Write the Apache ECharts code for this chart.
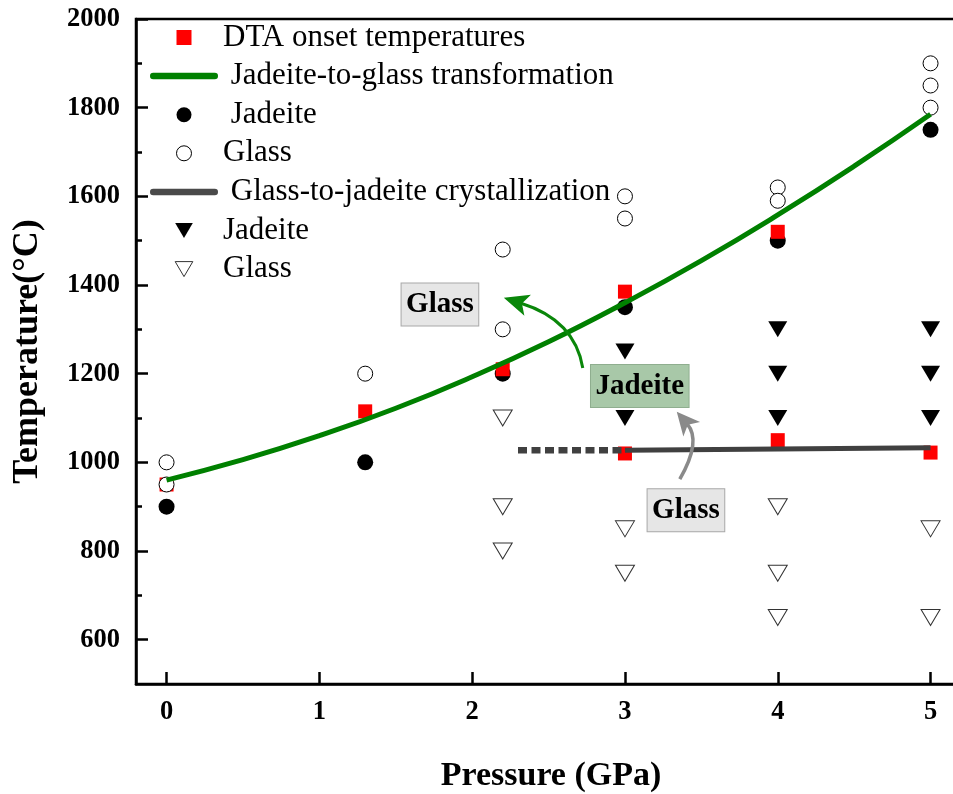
<!DOCTYPE html>
<html>
<head>
<meta charset="utf-8">
<script src="https://cdn.jsdelivr.net/npm/echarts@6/dist/echarts.min.js"></script>
<style>
html,body{margin:0;padding:0;background:#fff;}
#chart{width:953px;height:794px;}
</style>
</head>
<body>
<div id="chart"></div>
<script>
// ---------- data ----------
const pressureTicks = [0, 1, 2, 3, 4, 5];
const tempLabels = [600, 800, 1000, 1200, 1400, 1600, 1800, 2000];
const tempMinorTicks = [700, 900, 1100, 1300, 1500, 1700, 1900];

const dtaOnset = [[0, 950], [1.3, 1115], [2.2, 1210], [3, 1385], [3, 1020], [4, 1520], [4, 1050], [5, 1022]];
const jadeiteCircle = [[0, 900], [1.3, 1000], [2.2, 1200], [3, 1350], [4, 1500], [5, 1750]];
const glassCircle = [[0, 1000], [0, 950], [1.3, 1200], [2.2, 1480], [2.2, 1300], [3, 1600], [3, 1550], [4, 1620], [4, 1590], [5, 1900], [5, 1850], [5, 1800]];
const jadeiteTri = [[3, 1250], [3, 1100], [4, 1300], [4, 1200], [4, 1100], [5, 1300], [5, 1200], [5, 1100]];
const glassTri = [[2.2, 1100], [2.2, 900], [2.2, 800], [3, 850], [3, 750], [4, 900], [4, 750], [4, 650], [5, 850], [5, 650]];
const transformCurve = [[0, 960], [0.5, 1006], [1, 1060], [1.5, 1122], [2, 1193], [2.5, 1272], [3, 1360], [3.5, 1455], [4, 1558], [4.5, 1668], [5, 1785]];
const crystLine = [[3, 1027], [4, 1030], [5, 1033]];
const crystDashed = [[2.3, 1027], [3, 1027]];

const annotLabels = ['Glass', 'Jadeite', 'Glass'];
const annotPos = [[1.789, 1356], [3.097, 1172], [3.399, 892]];
const greenArrow = [[2.724, 1213], [2.672, 1321], [2.207, 1371]]; // start, control, tip
const grayArrow = [[3.359, 962], [3.503, 1048], [3.339, 1114]];

const names = {
  dta: 'DTA onset temperatures',
  trans: ' Jadeite-to-glass transformation',
  jc: ' Jadeite',
  gc: 'Glass',
  cryst: ' Glass-to-jadeite crystallization',
  jt: 'Jadeite',
  gt: 'Glass '
};

// ---------- chart ----------
const FONT = 'Liberation Serif';
const squarePath = 'path://M0,0 L10,0 L10,10 L0,10 Z';
const triPath = 'path://M0,0 L20,0 L10,17 Z';
const linePath = 'path://M3.5,0 L69.5,0 A3.5,3.5 0 0 1 69.5,7 L3.5,7 A3.5,3.5 0 0 1 3.5,0 Z';

const chart = echarts.init(document.getElementById('chart'), null, {renderer: 'canvas'});

const axisLineStyle = {color: '#000', width: 2.5};
const tickLabelStyle = {fontFamily: FONT, fontWeight: 'bold', fontSize: 26.5, color: '#000'};

const option = {
  backgroundColor: '#fff',
  animation: false,
  grid: {left: 136, top: 19, width: 830, height: 665, show: true, borderColor: '#000', borderWidth: 2.5,
    backgroundColor: 'transparent', outerBoundsMode: 'none', containLabel: false},
  legend: {
    orient: 'vertical', left: 150, top: 22, padding: 0,
    itemWidth: 68, itemHeight: 15, itemGap: 7.6,
    selectedMode: false,
    textStyle: {fontFamily: FONT, fontSize: 31, color: '#000', lineHeight: 31},
    data: [
      {name: names.dta, icon: squarePath, itemStyle: {color: '#ff0000', borderWidth: 0, opacity: 1}},
      {name: names.trans, icon: linePath, itemStyle: {color: '#008000', borderWidth: 0, opacity: 1}},
      {name: names.jc, icon: 'circle', itemStyle: {color: '#000', borderWidth: 0, opacity: 1}},
      {name: names.gc, icon: 'circle', itemStyle: {color: '#fff', borderColor: '#000', borderWidth: 1, opacity: 1}},
      {name: names.cryst, icon: linePath, itemStyle: {color: '#4a4a4a', borderWidth: 0, opacity: 1}},
      {name: names.jt, icon: triPath, itemStyle: {color: '#000', borderWidth: 0, opacity: 1}},
      {name: names.gt, icon: triPath, itemStyle: {color: '#fff', borderColor: '#333', borderWidth: 1, opacity: 1}}
    ]
  },
  xAxis: {
    type: 'value', min: -0.2, max: 5.232,
    name: 'Pressure (GPa)', nameLocation: 'middle', nameGap: 75,
    nameTextStyle: {fontFamily: FONT, fontWeight: 'bold', fontSize: 34, color: '#000'},
    axisLine: {show: true, onZero: false, lineStyle: axisLineStyle},
    axisTick: {show: true, inside: true, length: 12, lineStyle: {color: '#000', width: 2.5}, customValues: pressureTicks},
    axisLabel: Object.assign({margin: 15, customValues: pressureTicks, formatter: v => String(v)}, tickLabelStyle),
    splitLine: {show: false}
  },
  yAxis: [{
    type: 'value', min: 500, max: 2000, position: 'left',
    name: 'Temperature(°C)', nameLocation: 'middle', nameGap: 90, nameRotate: 90,
    nameTextStyle: {fontFamily: FONT, fontWeight: 'bold', fontSize: 36, color: '#000'},
    axisLine: {show: true, onZero: false, lineStyle: axisLineStyle},
    axisTick: {show: true, inside: true, length: 12, lineStyle: {color: '#000', width: 2.5}, customValues: tempLabels},
    axisLabel: Object.assign({margin: 16, customValues: tempLabels, formatter: v => String(v)}, tickLabelStyle),
    splitLine: {show: false}
  }, {
    type: 'value', min: 500, max: 2000, position: 'left', offset: 0,
    axisLine: {show: false, onZero: false},
    axisTick: {show: true, inside: true, length: 6, lineStyle: {color: '#000', width: 2.5}, customValues: tempMinorTicks},
    axisLabel: {show: false},
    splitLine: {show: false}
  }],
  series: [
    {name: names.jc, type: 'scatter', data: jadeiteCircle, symbol: 'circle', symbolSize: 16, itemStyle: {color: '#000', opacity: 1}, z: 2},
    {name: names.dta, type: 'scatter', data: dtaOnset, symbol: squarePath, symbolSize: 14, itemStyle: {color: '#ff0000', opacity: 1}, z: 3},
    {name: names.gc, type: 'scatter', data: glassCircle, symbol: 'circle', symbolSize: 15, itemStyle: {color: '#fff', borderColor: '#000', borderWidth: 1, opacity: 1}, z: 4},
    {name: names.jt, type: 'scatter', data: jadeiteTri, symbol: triPath, symbolSize: [19, 16], itemStyle: {color: '#000', opacity: 1}, z: 2},
    {name: names.gt, type: 'scatter', data: glassTri, symbol: triPath, symbolSize: [19, 16], itemStyle: {color: '#fff', borderColor: '#333', borderWidth: 1, opacity: 1}, z: 2},
    {name: names.trans, type: 'line', data: transformCurve, smooth: 0.5, symbol: 'none', lineStyle: {color: '#008000', width: 5}, itemStyle: {color: '#008000'}, z: 5},
    {name: names.cryst, type: 'line', data: crystLine, symbol: 'none', lineStyle: {color: '#404040', width: 5}, itemStyle: {color: '#404040'}, z: 5},
    {name: 'crystDashed', type: 'line', data: crystDashed, symbol: 'none', lineStyle: {color: '#404040', width: 6.5, type: [9, 4.5]}, z: 5},
    {
      name: 'annotations', type: 'scatter', symbolSize: 1, itemStyle: {color: 'rgba(255,255,255,0)', opacity: 1}, z: 8,
      data: annotLabels.map((t, i) => ({
        name: t, value: annotPos[i],
        label: {
          backgroundColor: i === 1 ? '#a8c8a8' : '#e6e6e6',
          borderColor: i === 1 ? '#8fae8f' : '#a8a8a8'
        }
      })),
      label: {
        show: true, position: 'inside', formatter: p => p.name,
        fontFamily: FONT, fontWeight: 'bold', fontSize: 29, lineHeight: 30, color: '#000', opacity: 1,
        textBorderWidth: 0, textBorderColor: 'transparent',
        borderWidth: 1, padding: [6, 4.5, 6, 4.5]
      }
    }
  ]
};
chart.setOption(option);

function arrowGraphics(pts, color, width, L, W, notch) {
  const p = pts.map(v => chart.convertToPixel({gridIndex: 0}, v));
  const [s, c, t] = p;
  let dx = t[0] - c[0], dy = t[1] - c[1];
  const len = Math.hypot(dx, dy); dx /= len; dy /= len;
  const nx = -dy, ny = dx;
  const back = [t[0] - dx * L, t[1] - dy * L];
  const nt = [t[0] - dx * (L - notch), t[1] - dy * (L - notch)];
  const shaftEnd = [t[0] - dx * (L - notch - 1), t[1] - dy * (L - notch - 1)];
  return [
    {type: 'bezierCurve', z: 9, shape: {x1: s[0], y1: s[1], cpx1: c[0], cpy1: c[1], x2: shaftEnd[0], y2: shaftEnd[1]},
      style: {stroke: color, lineWidth: width, fill: null}},
    {type: 'polygon', z: 9, shape: {points: [t, [back[0] + nx * W, back[1] + ny * W], nt, [back[0] - nx * W, back[1] - ny * W]]},
      style: {fill: color}}
  ];
}

chart.setOption({
  graphic: [].concat(
    arrowGraphics(greenArrow, '#0a870a', 3, 25, 11, 6),
    arrowGraphics(grayArrow, '#8a8a8a', 3.5, 23, 11, 6)
  )
});
</script>
</body>
</html>
